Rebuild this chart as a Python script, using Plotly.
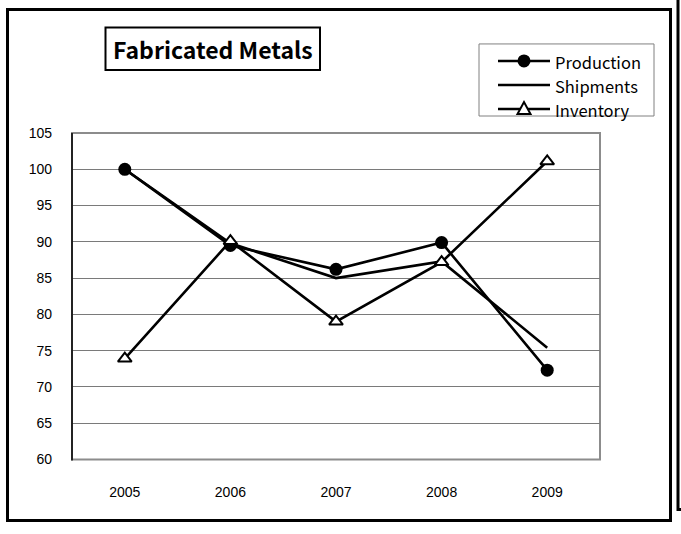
import plotly.graph_objects as go

years = ["2005", "2006", "2007", "2008", "2009"]
production = [100.0, 89.5, 86.2, 89.9, 72.3]
shipments = [100.0, 89.8, 85.0, 87.3, 75.4]
inventory = [73.9, 90.1, 79.0, 87.2, 101.1]
y_ticks = [60, 65, 70, 75, 80, 85, 90, 95, 100, 105]
title_text = "Fabricated Metals"
series_names = ["Production", "Shipments", "Inventory"]

W, H = 681, 534
# the capture maps layout rows as: shown = 8.1 + 0.969 * layout
Y_OFF, Y_SCALE = 8.1, 0.969
PL, PR, PT, PB = 72, 600, 133, 459

def px(x):
    return x / W

def py(y):
    return 1 - ((y - Y_OFF) / Y_SCALE) / H

fig = go.Figure()

LW = 2.6
fig.add_trace(go.Scatter(x=years, y=production, name=series_names[0], mode="lines+markers",
                         line=dict(color="black", width=LW),
                         marker=dict(symbol="circle", size=13, color="black"),
                         cliponaxis=False))
fig.add_trace(go.Scatter(x=years, y=shipments, name=series_names[1], mode="lines",
                         line=dict(color="black", width=LW)))
fig.add_trace(go.Scatter(x=years, y=inventory, name=series_names[2], mode="lines+markers",
                         line=dict(color="black", width=LW),
                         marker=dict(symbol="triangle-up", size=12, color="white",
                                     line=dict(color="black", width=2)),
                         cliponaxis=False))

shapes = []
# outer frame
shapes.append(dict(type="rect", xref="paper", yref="paper", x0=px(7.5), x1=px(670.5),
                   y0=py(520), y1=py(9.5), line=dict(color="black", width=3), layer="below"))
# right extra line with hook
shapes.append(dict(type="path", xref="paper", yref="paper",
                   path=f"M {px(678)} {py(0)} L {px(678)} {py(509)} L {px(683)} {py(509)}",
                   line=dict(color="black", width=3)))
# title box
shapes.append(dict(type="rect", xref="paper", yref="paper", x0=px(105.5), x1=px(320),
                   y0=py(70), y1=py(27.5), line=dict(color="black", width=2)))
# legend box
shapes.append(dict(type="rect", xref="paper", yref="paper", x0=px(479), x1=px(654),
                   y0=py(116), y1=py(44), line=dict(color="#808080", width=1)))
# plot area border (gray)
shapes.append(dict(type="rect", xref="paper", yref="paper", x0=px(PL), x1=px(PR),
                   y0=py(PB), y1=py(PT), line=dict(color="#8c8c8c", width=2), layer="below"))
# y axis line black
shapes.append(dict(type="line", xref="paper", yref="paper", x0=px(PL), x1=px(PL),
                   y0=py(PB + 1), y1=py(PT), line=dict(color="black", width=1.5)))

# legend entries (drawn manually)
leg_y = [61, 85, 109]
leg_x0, leg_x1 = 498, 550
leg_xm = (leg_x0 + leg_x1) / 2
for i, name in enumerate(series_names):
    shapes.append(dict(type="line", xref="paper", yref="paper", x0=px(leg_x0), x1=px(leg_x1),
                       y0=py(leg_y[i]), y1=py(leg_y[i]), line=dict(color="black", width=LW)))
    fig.add_annotation(x=px(553), y=py(leg_y[i] + 1), xref="paper", yref="paper",
                       text=name, showarrow=False, xanchor="left", yanchor="middle",
                       font=dict(family="Noto Sans CJK JP", size=16.5, color="black"))
# circle marker for Production
r = 6.5
shapes.append(dict(type="circle", xref="paper", yref="paper",
                   x0=px(leg_xm - r), x1=px(leg_xm + r), y0=py(leg_y[0] + r), y1=py(leg_y[0] - r),
                   fillcolor="black", line=dict(color="black", width=0)))
# triangle marker for Inventory
ty = leg_y[2]
tri = (f"M {px(leg_xm - 6.5)} {py(ty + 5)} L {px(leg_xm + 6.5)} {py(ty + 5)} "
       f"L {px(leg_xm)} {py(ty - 7)} Z")
shapes.append(dict(type="path", xref="paper", yref="paper", path=tri,
                   fillcolor="white", line=dict(color="black", width=2)))

fig.add_annotation(x=px(212.5), y=py(49), xref="paper", yref="paper", text="<b>" + title_text + "</b>",
                   showarrow=False, xanchor="center", yanchor="middle",
                   font=dict(family="Noto Sans CJK JP", size=23, color="black"))

fig.update_layout(
    width=W, height=H,
    margin=dict(l=0, r=0, t=0, b=0),
    paper_bgcolor="white", plot_bgcolor="white",
    showlegend=False,
    shapes=shapes,
    xaxis=dict(domain=[px(PL), px(PR)], type="category", range=[-0.5, 4.5],
               showgrid=False, zeroline=False, showline=False, ticks="",
               ticklabelstandoff=23,
               tickfont=dict(family="Liberation Sans", size=14, color="black")),
    yaxis=dict(domain=[py(PB), py(PT)], range=[60, 105], tickvals=y_ticks,
               showgrid=True, gridcolor="#7a7a7a", gridwidth=1, zeroline=False,
               showline=False, ticks="", ticklabelstandoff=19,
               tickfont=dict(family="Liberation Sans", size=14, color="black")),
)

post = (
    "var s=document.createElement('style');"
    "s.innerHTML='html,body{margin:0!important;padding:0!important;overflow:hidden;}"
    ".plotly-graph-div{position:absolute!important;top:0;left:0;}';"
    "document.head.appendChild(s);"
)
fig.write_html("out.html", config={"displayModeBar": False}, post_script=post)
